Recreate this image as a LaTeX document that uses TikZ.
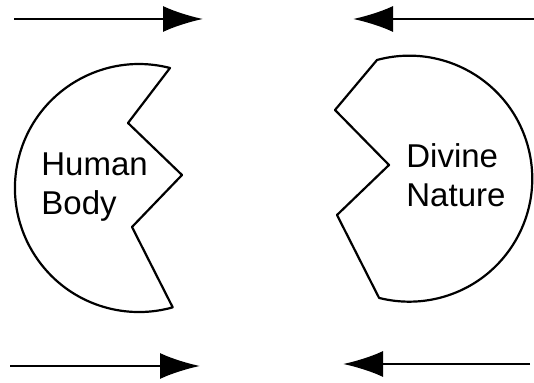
\documentclass[tikz,border=0pt]{standalone}
\usepackage{fontspec}
\setmainfont{Liberation Sans}
\usetikzlibrary{arrows.meta}

\begin{document}
\begin{tikzpicture}[x = 0.5pt, y = 0.5pt,
    blob/.style = { draw, line width = 1.1pt, line join = round },
    flow/.style = { draw, line width = 1.3pt, -{Latex[length = 20pt, width = 13pt]} },
    every node/.style = { align = left, inner sep = 0pt, anchor = west,
      font = \fontsize{16.5}{19.5}\selectfont }]
  \useasboundingbox (0, 0) rectangle (534, 383);
  % human body
  \coordinate (hbTop) at (170, 315);
  \coordinate (hbUp)  at (128, 260);
  \coordinate (hbTip) at (182, 208);
  \coordinate (hbLow) at (132, 156);
  \draw[blob] (hbTop) arc[start angle = 75.5, end angle = 285.8, radius = 124]
    -- (hbLow) -- (hbTip) -- (hbUp) -- cycle;
  \node (human) at (41, 196) { Human \\ Body };
  % divine nature
  \coordinate (dnTop) at (377, 323);
  \coordinate (dnUp)  at (335, 273);
  \coordinate (dnTip) at (389, 218);
  \coordinate (dnLow) at (337, 168);
  \draw[blob] (dnTop) arc[start angle = 105.2, end angle = -104.2, radius = 123]
    -- (dnLow) -- (dnTip) -- (dnUp) -- cycle;
  \node (divine) at (406, 208) { Divine \\ Nature };
  % arrows
  \coordinate (tlFrom) at (14, 364);  \coordinate (tlTo) at (203, 364);
  \coordinate (blFrom) at (10, 17);   \coordinate (blTo) at (200, 17);
  \coordinate (trFrom) at (534, 364); \coordinate (trTo) at (353, 364);
  \coordinate (brFrom) at (530, 19);  \coordinate (brTo) at (343, 19);
  \draw[flow] (tlFrom) -- (tlTo);
  \draw[flow] (blFrom) -- (blTo);
  \draw[flow] (trFrom) -- (trTo);
  \draw[flow] (brFrom) -- (brTo);
\end{tikzpicture}
\end{document}
